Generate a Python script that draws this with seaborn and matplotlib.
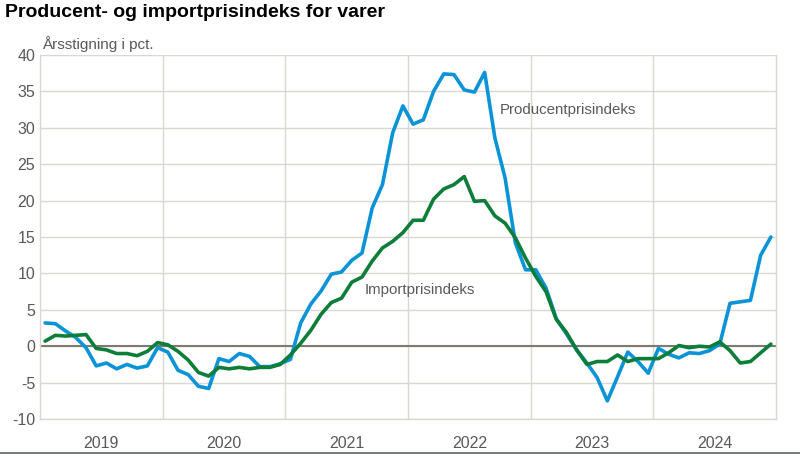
# Producent- og importprisindeks for varer
import pandas as pd
import matplotlib.pyplot as plt
import seaborn as sns
import numpy as np

years = ['2019', '2020', '2021', '2022', '2023', '2024']
months = pd.date_range('2019-01-01', '2024-12-01', freq='MS')

# annual growth in pct, monthly Jan 2019 - Dec 2024
producent = [3.2, 3.1, 2.1, 1.2, -0.2, -2.7, -2.3, -3.1, -2.5, -3.0, -2.7, -0.2,
             -0.8, -3.3, -3.9, -5.5, -5.8, -1.7, -2.1, -1.0, -1.4, -2.8, -2.8, -2.4,
             -1.8, 3.2, 5.8, 7.6, 9.9, 10.2, 11.8, 12.8, 19.0, 22.2, 29.3, 33.0,
             30.5, 31.1, 35.0, 37.4, 37.3, 35.2, 34.9, 37.6, 28.6, 23.1, 14.2, 10.5,
             10.5, 8.0, 3.8, 1.7, -0.5, -2.3, -4.3, -7.5, -4.2, -0.8, -2.1, -3.7,
             -0.3, -1.1, -1.6, -0.9, -1.0, -0.6, 0.3, 5.9, 6.1, 6.3, 12.5, 15.0]
import_ = [0.7, 1.5, 1.4, 1.5, 1.6, -0.3, -0.5, -1.0, -1.0, -1.3, -0.7, 0.5,
           0.2, -0.7, -1.9, -3.6, -4.1, -2.9, -3.1, -2.9, -3.1, -2.9, -2.9, -2.5,
           -1.2, 0.4, 2.2, 4.4, 6.0, 6.6, 8.8, 9.5, 11.7, 13.5, 14.4, 15.6,
           17.3, 17.3, 20.2, 21.6, 22.2, 23.3, 19.9, 20.0, 17.9, 16.9, 14.9, 12.1,
           9.6, 7.5, 3.7, 1.9, -0.5, -2.5, -2.1, -2.1, -1.2, -2.1, -1.7, -1.7,
           -1.7, -0.9, 0.1, -0.2, 0.0, -0.1, 0.6, -0.6, -2.3, -2.1, -0.9, 0.3]

df = pd.DataFrame({'idx': np.arange(len(months)), 'Producentprisindeks': producent,
                   'Importprisindeks': import_})

sns.set_style('white')
plt.rcParams['font.family'] = ['Liberation Sans', 'DejaVu Sans']
plt.rcParams['axes.unicode_minus'] = False

fig = plt.figure(figsize=(8, 4.58), dpi=100)
ax = fig.add_axes([0.05, 0.085, 0.92, 0.795])

grid_c = '#d9d7d0'
txt_c = '#595959'

sns.lineplot(data=df, x='idx', y='Producentprisindeks', color='#0a93d6', lw=2.6, ax=ax)
sns.lineplot(data=df, x='idx', y='Importprisindeks', color='#0d7d3a', lw=2.6, ax=ax)

ax.set_xlim(-0.5, len(months) - 0.5)
ax.set_ylim(-10, 40)
ax.set_yticks(np.arange(-10, 41, 5))
ax.set_xticks(np.arange(5.5, 72, 12))
ax.set_xticklabels(years)
ax.set_xticks(np.arange(11.5, 71, 12), minor=True)
ax.grid(True, axis='y', color=grid_c, lw=1)
ax.grid(True, axis='x', which='minor', color=grid_c, lw=1)
ax.set_axisbelow(True)
ax.axhline(0, color='#7f7a70', lw=1.5, zorder=1.5)
ax.tick_params(axis='both', length=0, labelsize=11.5, colors=txt_c)
ax.tick_params(axis='x', pad=12)
ax.set_xlabel('')
ax.set_ylabel('')
for s in ['left', 'right', 'bottom']:
    ax.spines[s].set_color(grid_c)
    ax.spines[s].set_linewidth(1)
ax.spines['top'].set_visible(False)

ax.text(44.5, 32.5, 'Producentprisindeks', fontsize=10.8, color=txt_c, va='center')
ax.text(31.3, 7.7, 'Importprisindeks', fontsize=10.8, color=txt_c, va='center')

fig.text(0.006, 0.972, 'Producent- og importprisindeks for varer', fontsize=14,
         fontweight='bold', color='black', va='center')
fig.text(0.052, 0.905, 'Årsstigning i pct.', fontsize=11, color=txt_c, va='center')
fig.add_artist(plt.Line2D([0, 1], [0.01, 0.01], color='#5a6570', lw=1.2))

plt.savefig('out.png', dpi=100)
